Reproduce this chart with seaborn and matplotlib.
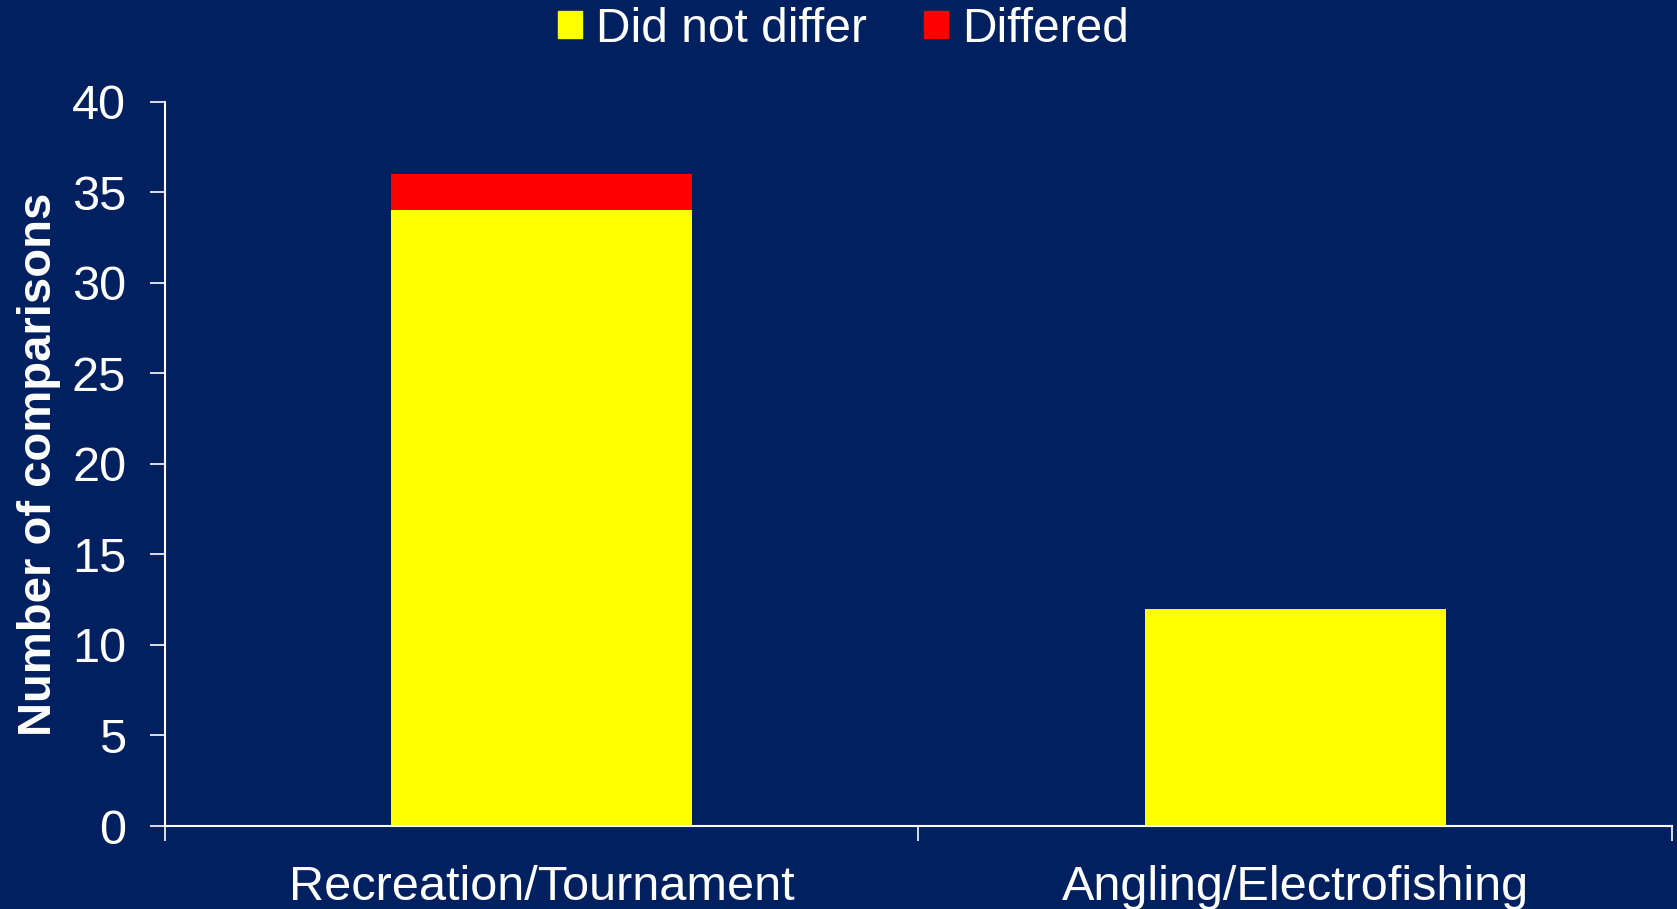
import matplotlib
matplotlib.use("Agg")
import matplotlib.pyplot as plt
import matplotlib.patches as mpatches
import seaborn as sns
import pandas as pd

# ===============================
# Data
# ===============================
categories = ["Recreation/Tournament", "Angling/Electrofishing"]
did_not_differ = [34, 12]
differed = [2, 0]
legend_labels = ["Did not differ", "Differed"]
y_ticks = [0, 5, 10, 15, 20, 25, 30, 35, 40]

df = pd.DataFrame({"category": categories,
                   "did_not_differ": did_not_differ,
                   "differed": differed})
df["total"] = df["did_not_differ"] + df["differed"]

bg = "#002060"
sns.set_style("white")
plt.rcParams["font.family"] = ["Liberation Sans", "DejaVu Sans"]

fig = plt.figure(figsize=(16.77, 9.09), dpi=100, facecolor=bg)
ax = fig.add_axes([0.0984, 0.0913, 0.8986, 0.7969])
ax.set_facecolor(bg)

# stacked bars: total in red, yellow part drawn on top
sns.barplot(data=df, x="category", y="total", color="#FF0000", width=0.4,
            saturation=1, linewidth=0, ax=ax)
sns.barplot(data=df, x="category", y="did_not_differ", color="#FFFF00", width=0.4,
            saturation=1, linewidth=0, ax=ax)

ax.set_xlim(-0.5, 1.5)
ax.set_ylim(0, 40)
ax.set_yticks(y_ticks)
ax.set_yticklabels([str(t) for t in y_ticks])

# ticks at category boundaries, labels at centers
ax.set_xticks([-0.5, 0.5, 1.5])
ax.set_xticklabels([])
ax.set_xticks([0, 1], minor=True)
ax.set_xticklabels(categories, minor=True)
ax.tick_params(axis="x", which="major", direction="out", length=11, width=1.2,
               color="white", bottom=True)
ax.tick_params(axis="x", which="minor", length=0, pad=28, labelsize=35,
               labelcolor="white")
ax.tick_params(axis="y", direction="out", length=11, width=1.2, color="white",
               labelsize=35, labelcolor="white", left=True, pad=17)

for s in ["top", "right"]:
    ax.spines[s].set_visible(False)
for s in ["left", "bottom"]:
    ax.spines[s].set_color("white")
    ax.spines[s].set_linewidth(1.5)

ax.set_xlabel("")
ax.set_ylabel("Number of comparisons", fontsize=34, fontweight="bold",
              color="white")
ax.yaxis.set_label_coords(-0.069, 0.5)

handles = [mpatches.Patch(color="#FFFF00"), mpatches.Patch(color="#FF0000")]
fig.legend(handles, legend_labels, loc="center", bbox_to_anchor=(0.503, 0.968),
           ncol=2, frameon=False, fontsize=34.5, labelcolor="white",
           handlelength=0.5, handleheight=0.5, handletextpad=0.3,
           columnspacing=1.2)

fig.savefig("out.png", dpi=100, facecolor=bg)
